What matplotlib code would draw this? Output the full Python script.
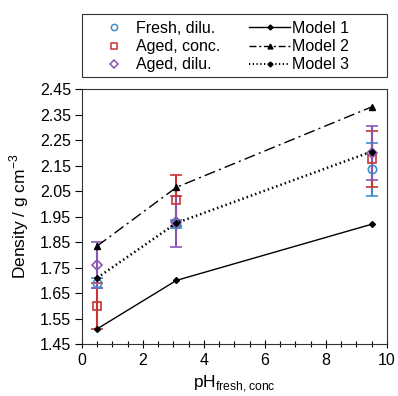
import matplotlib
matplotlib.use("Agg")
import matplotlib.pyplot as plt
from matplotlib.lines import Line2D
from matplotlib.patches import Rectangle
from matplotlib.ticker import MultipleLocator, FixedLocator

plt.rcParams['font.family'] = ['Liberation Sans', 'DejaVu Sans']

ph = [0.5, 3.1, 9.5]
fresh_dilu = [1.69, 1.92, 2.135]
fresh_dilu_err = [0.02, 0.015, 0.105]
aged_conc = [1.60, 2.015, 2.175]
aged_conc_err = [0.09, 0.10, 0.11]
aged_dilu = [1.76, 1.93, 2.20]
aged_dilu_err = [0.09, 0.10, 0.105]
model1 = [1.51, 1.70, 1.92]
model2 = [1.835, 2.065, 2.38]
model3 = [1.71, 1.925, 2.205]
yticks = [1.45, 1.55, 1.65, 1.75, 1.85, 1.95, 2.05, 2.15, 2.25, 2.35, 2.45]

c_blue = '#3d8ec9'
c_red = '#cc3333'
c_purple = '#8a56b2'

fig = plt.figure(figsize=(3.98, 3.96), dpi=100)
ax = fig.add_axes([0.206, 0.131, 0.766, 0.644])

ms = 6
for y, e, c, m in [(fresh_dilu, fresh_dilu_err, c_blue, 'o'),
                   (aged_conc, aged_conc_err, c_red, 's'),
                   (aged_dilu, aged_dilu_err, c_purple, 'D')]:
    ax.errorbar(ph, y, yerr=e, fmt=m, color=c, mfc='none', mec=c, ms=ms if m != 'D' else 5,
                mew=1.2, capsize=4, elinewidth=1.5, capthick=1.2, zorder=2)

ax.plot(ph, model1, '-', color='black', lw=1, marker='D', ms=3, zorder=3)
ax.plot(ph, model2, color='black', lw=1, ls=(0, (8, 3, 1.5, 3)), marker='^', ms=4, zorder=3)
ax.plot(ph, model3, color='black', lw=1.8, ls=(0, (0.6, 1.2)), marker='D', ms=3, zorder=3)

ax.set_xlim(0, 10)
ax.set_ylim(1.45, 2.45)
ax.xaxis.set_major_locator(MultipleLocator(2))
ax.xaxis.set_minor_locator(MultipleLocator(0.5))
ax.yaxis.set_major_locator(FixedLocator(yticks))
ax.set_yticklabels([f"{v:.2f}" for v in yticks])
ax.tick_params(axis='x', which='both', direction='inout', length=6, labelsize=11.5, width=0.8)
ax.tick_params(axis='x', which='minor', length=4)
ax.tick_params(axis='y', which='both', direction='out', length=5, labelsize=11.5, width=0.8, pad=3)
for s in ax.spines.values():
    s.set_linewidth(0.8)
    s.set_color('#333333')

ax.set_xlabel(r'pH$_{\mathregular{fresh,conc}}$', fontsize=12.5, labelpad=4)
ax.set_ylabel(r'Density / g cm$^{\mathregular{-3}}$', fontsize=12.5, labelpad=6)

handles = [
    Line2D([], [], ls='none', marker='o', mfc='none', mec=c_blue, ms=4.5, mew=1.1),
    Line2D([], [], ls='none', marker='s', mfc='none', mec=c_red, ms=4.5, mew=1.1),
    Line2D([], [], ls='none', marker='D', mfc='none', mec=c_purple, ms=3.8, mew=1.1),
    Line2D([], [], color='black', lw=1, marker='D', ms=2.5),
    Line2D([], [], color='black', lw=1, ls=(0, (5, 2, 1.5, 2)), marker='^', ms=3.5),
    Line2D([], [], color='black', lw=1.5, ls=(0, (0.6, 1.2)), marker='D', ms=2.5),
]
labels = ['Fresh, dilu.', 'Aged, conc.', 'Aged, dilu.', 'Model 1', 'Model 2', 'Model 3']
fig.patches.append(Rectangle((0.206, 0.806), 0.766, 0.159, transform=fig.transFigure,
                             fill=False, edgecolor='#333333', lw=0.8))
leg = fig.legend(handles, labels, ncol=2, loc='center',
                 bbox_to_anchor=(0.556, 0.882),
                 fontsize=11.5, frameon=False,
                 handlelength=2.55, handletextpad=0.1, labelspacing=0.2,
                 borderaxespad=0, columnspacing=1.8, borderpad=0.2)

fig.savefig('out.png', dpi=100)
